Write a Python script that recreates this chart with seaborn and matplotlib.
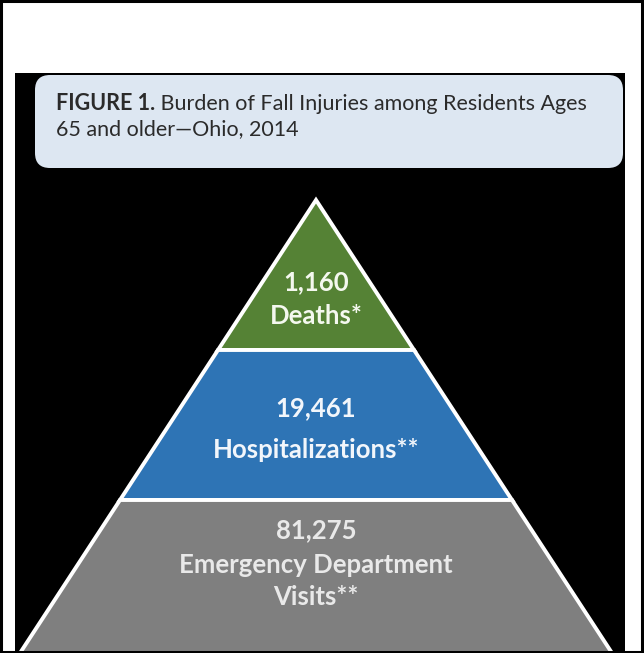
import matplotlib
matplotlib.use("Agg")
import matplotlib.pyplot as plt
from matplotlib.patches import FancyBboxPatch, Rectangle
import seaborn as sns

# ---- data ----
tier_labels = ["Deaths*", "Hospitalizations**", "Emergency Department\nVisits**"]
tier_counts = [1160, 19461, 81275]
tier_colors = ["#558235", "#2e74b5", "#7f7f7f"]
tier_text_colors = ["#f4f8ef", "#f2f6fb", "#e9e9e9"]
title_bold = "FIGURE 1."
title_rest = " Burden of Fall Injuries among Residents Ages"
title_line2 = "65 and older\u2014Ohio, 2014"

sns.set_theme(style="white")
plt.rcParams['font.family'] = ['Lato', 'DejaVu Sans']

W, H = 644, 653
fig = plt.figure(figsize=(W / 100, H / 100), dpi=100)
ax = fig.add_axes([0, 0, 1, 1])
ax.set_xlim(0, W)
ax.set_ylim(H, 0)
ax.axis("off")

# outer border
ax.add_patch(Rectangle((1, 1), W - 2.5, H - 2, fill=False, ec="black", lw=2.2, zorder=10))
# black panel
ax.add_patch(Rectangle((15, 73), 610, 580, fc="black", ec="none", zorder=1))
# light blue title box
ax.add_patch(FancyBboxPatch((35 + 15, 75 + 15), 588 - 30, 93 - 30,
                            boxstyle="round,pad=15", fc="#dde7f2", ec="none", zorder=2))
fs_title = 15.5
t1 = ax.text(56, 110, title_bold, fontsize=fs_title, fontweight="bold", color="#2b2b2b",
             va="baseline", ha="left", zorder=3)
ax.annotate(title_rest, xy=(1, 0), xycoords=t1, va="bottom", ha="left",
            fontsize=fs_title, color="#2b2b2b", zorder=3)
ax.text(56, 135, title_line2, fontsize=fs_title, color="#2b2b2b", va="baseline", ha="left", zorder=3)

# pyramid geometry
apex_x, apex_y = 316, 200
base_y = 653
half_base = 294 * (base_y - apex_y) / 450
n = len(tier_labels)
bounds = [apex_y + (450 / 3) * i for i in range(n)] + [base_y]

def hw(y):
    return half_base * (y - apex_y) / (base_y - apex_y)

text_centers = [[280, 314], [406, 448], [528, 563, 595]]
for i, (lab, cnt, col, tcol) in enumerate(zip(tier_labels, tier_counts, tier_colors, tier_text_colors)):
    y0, y1 = bounds[i], bounds[i + 1]
    xs = [apex_x - hw(y0), apex_x + hw(y0), apex_x + hw(y1), apex_x - hw(y1)]
    ys = [y0, y0, y1, y1]
    ax.fill(xs, ys, facecolor=col, edgecolor="white", linewidth=2.8, joinstyle="miter", zorder=4)
    lines = [f"{cnt:,}"] + lab.split("\n")
    for yc, s in zip(text_centers[i], lines):
        ax.text(apex_x, yc, s, ha="center", va="center_baseline", fontsize=18.5,
                fontweight="bold", color=tcol, zorder=5)

fig.savefig("out.png", dpi=100)
